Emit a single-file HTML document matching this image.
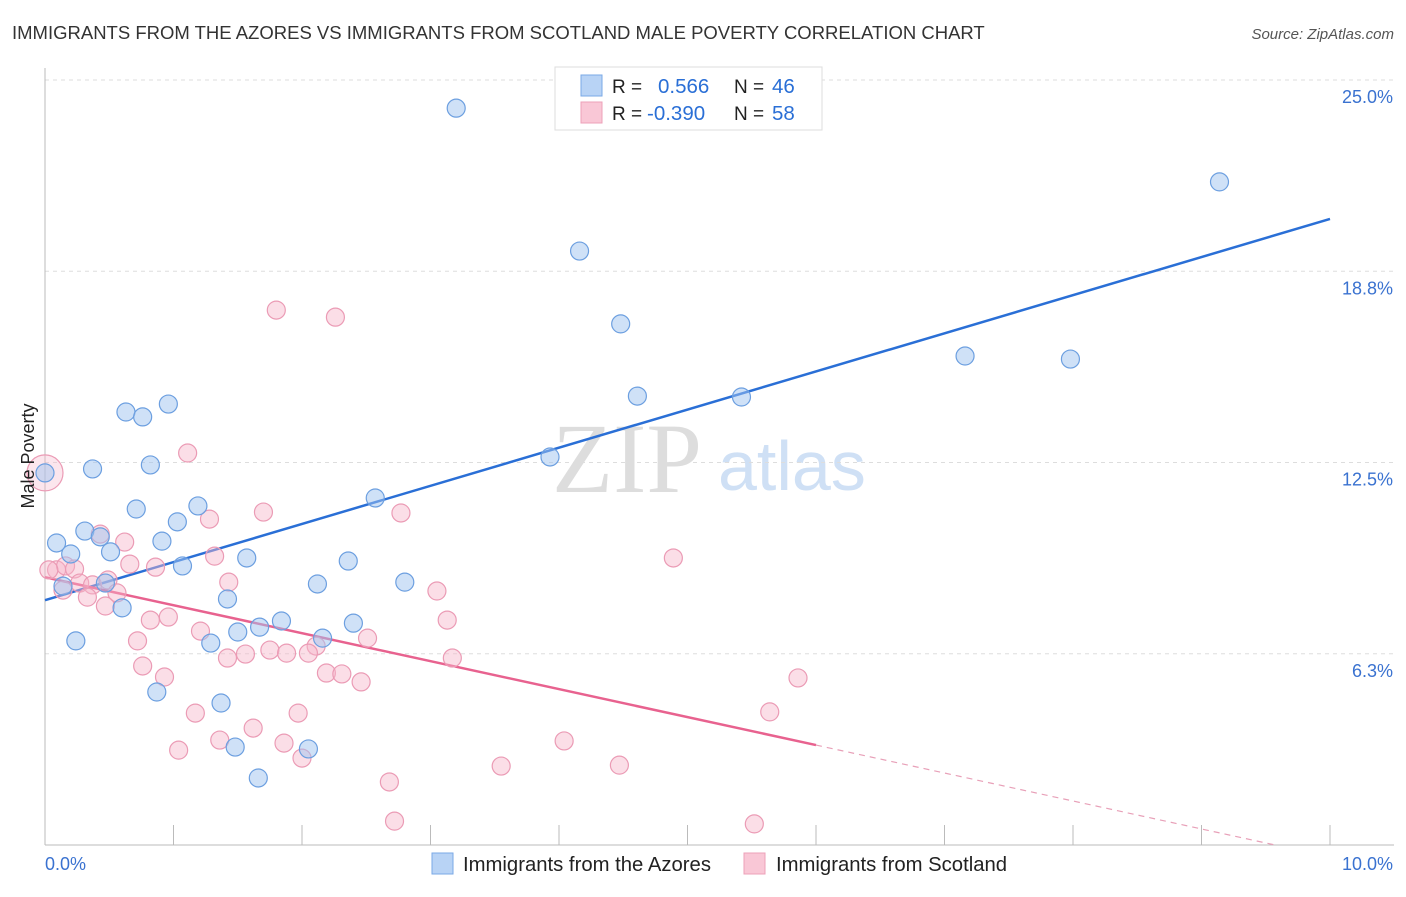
<!DOCTYPE html>
<html><head><meta charset="utf-8"><style>
body{margin:0;background:#fff;font-family:"Liberation Sans",sans-serif}
svg text{font-family:"Liberation Sans",sans-serif}
</style></head><body>
<svg id="chart" width="1406" height="892" xmlns="http://www.w3.org/2000/svg">
<text x="12" y="39" font-size="18.5" fill="#333">IMMIGRANTS FROM THE AZORES VS IMMIGRANTS FROM SCOTLAND MALE POVERTY CORRELATION CHART</text>
<text x="1394" y="39" font-size="15" fill="#555" font-style="italic" text-anchor="end">Source: ZipAtlas.com</text>
<g>
<text x="552" y="492" font-size="100" fill="#ddd" font-family="Liberation Serif" style="font-family:'Liberation Serif',serif">ZIP</text>
<text x="718" y="490" font-size="70" fill="#cfe0f5">atlas</text>
</g>
<g id="grid"></g>
<g id="axes"></g>
<g id="lines"></g>
<g id="pts"></g>
<text transform="translate(34,456) rotate(-90)" font-size="18" fill="#222" text-anchor="middle">Male Poverty</text>
<g>
<rect x="555" y="67" width="267" height="63" fill="#fff" stroke="#ddd"/>
<rect x="581" y="75" width="21" height="21" fill="#b8d3f5" stroke="#7aa8e6"/>
<rect x="581" y="102" width="21" height="21" fill="#f9c7d6" stroke="#eda0b8"/>
<text x="612" y="93" font-size="19" fill="#222">R = </text><text x="658" y="93" font-size="20.5" fill="#2a6fd6">0.566</text>
<text x="734" y="93" font-size="19" fill="#222">N = </text><text x="772" y="93" font-size="20.5" fill="#2a6fd6">46</text>
<text x="612" y="120" font-size="19" fill="#222">R = </text><text x="647" y="120" font-size="20.5" fill="#2a6fd6">-0.390</text>
<text x="734" y="120" font-size="19" fill="#222">N = </text><text x="772" y="120" font-size="20.5" fill="#2a6fd6">58</text>
</g>
<g>
<rect x="432" y="853" width="21" height="21" fill="#b8d3f5" stroke="#7aa8e6"/>
<text x="463" y="871" font-size="20.3" fill="#222">Immigrants from the Azores</text>
<rect x="744" y="853" width="21" height="21" fill="#f9c7d6" stroke="#eda0b8"/>
<text x="776" y="871" font-size="20.3" fill="#222">Immigrants from Scotland</text>
</g>
</svg>
<script>
const yTicks=[6.25,12.5,18.75,25];
const yTickLabels=["6.3%","12.5%","18.8%","25.0%"];
const xTickLabels=["0.0%","10.0%"];
const azoresX=[3.20,9.14,4.16,4.48,7.16,7.98,4.61,5.42,0.63,0.76,0.96,3.93,0.37,0.82,0.00,2.57,0.71,1.19,1.03,0.09,0.31,0.43,0.20,0.51,0.91,1.57,1.07,2.36,0.47,0.14,2.12,2.80,0.60,1.42,1.84,2.40,1.67,1.50,2.16,1.29,0.24,0.87,1.37,1.48,2.05,1.66];
const azoresY=[24.08,21.67,19.41,17.03,15.98,15.88,14.67,14.64,14.15,13.99,14.41,12.68,12.29,12.42,12.16,11.34,10.98,11.08,10.56,9.87,10.26,10.07,9.51,9.58,9.93,9.38,9.12,9.28,8.56,8.46,8.53,8.59,7.75,8.04,7.32,7.25,7.12,6.96,6.76,6.60,6.67,5.00,4.64,3.20,3.14,2.19];
const scotX=[1.80,2.26,1.11,1.28,1.70,2.77,4.89,1.32,0.62,0.43,0.09,0.16,0.23,0.14,0.27,0.37,0.49,0.33,0.56,0.66,0.86,1.43,3.05,0.47,0.82,0.96,0.72,1.21,2.51,3.13,1.75,2.11,1.56,1.42,1.88,2.05,3.17,0.76,2.19,2.31,2.46,0.93,5.86,1.17,1.97,5.64,1.62,1.36,1.86,4.04,1.04,2.00,3.55,4.47,2.68,2.72,5.52,0.03];
const scotY=[17.48,17.25,12.81,10.65,10.88,10.85,9.38,9.44,9.90,10.16,8.99,9.12,9.02,8.33,8.56,8.50,8.66,8.10,8.24,9.18,9.08,8.59,8.30,7.81,7.35,7.45,6.67,6.99,6.76,7.35,6.37,6.50,6.24,6.11,6.27,6.27,6.11,5.85,5.62,5.59,5.33,5.49,5.46,4.31,4.31,4.35,3.82,3.43,3.33,3.40,3.10,2.84,2.58,2.61,2.06,0.78,0.69,8.99];
const azoresTrend=[8.0,20.46];
const scotTrend=[8.75,-0.39];
const scotSolidEnd=6.0;
const X0=45,X1=1330,Y0=845,Y1=80;
const sx=v=>X0+(X1-X0)*v/10, sy=v=>Y0-(Y0-Y1)*v/25;
const NS="http://www.w3.org/2000/svg";
function mk(p,tag,a){const e=document.createElementNS(NS,tag);for(const k in a)e.setAttribute(k,a[k]);p.appendChild(e);return e;}
const grid=document.getElementById('grid'),axes=document.getElementById('axes'),lines=document.getElementById('lines'),pts=document.getElementById('pts');
yTicks.forEach((t,i)=>{
 const g=mk(grid,'line',{x1:X0,x2:1394,y1:sy(t),y2:sy(t),stroke:'#ddd','stroke-dasharray':'4,4'});
 
 
 const tx=mk(axes,'text',{x:1393,y:sy(t)+23,'font-size':18,fill:'#3a72d0','text-anchor':'end'});
 tx.textContent=yTickLabels[i];
 
 
});
const ya=mk(axes,'line',{x1:X0,x2:X0,y1:68,y2:Y0,stroke:'#bbb'});


const xa=mk(axes,'line',{x1:X0,x2:1394,y1:Y0,y2:Y0,stroke:'#bbb'});


for(let i=1;i<=10;i++){
 const t=mk(axes,'line',{x1:sx(i),x2:sx(i),y1:Y0,y2:Y0-20,stroke:'#bbb'});
 
 
}
[[0,'start',X0],[1,'end',1393]].forEach(([i,a,x])=>{
 const t=mk(axes,'text',{x:x,y:870,'font-size':18,fill:'#3a72d0','text-anchor':a});
 t.textContent=xTickLabels[i];
 
 
});
function dot(x,y,r,f,s,name){
 const c=mk(pts,'circle',{cx:sx(x),cy:sy(y),r:r,fill:f,stroke:s,'stroke-width':1.2});
 
 
}
scotX.forEach((x,i)=>dot(x,scotY[i],9,'rgba(246,182,202,0.45)','#eb9bb5','scotland-point'));
dot(0,12.16,18,'rgba(246,182,202,0.35)','#eb9bb5','scotland-point-large');
azoresX.forEach((x,i)=>dot(x,azoresY[i],9,'rgba(160,196,240,0.5)','#6c9fe0','azores-point'));
const bl=mk(lines,'line',{x1:sx(0),y1:sy(azoresTrend[0]),x2:sx(10),y2:sy(azoresTrend[1]),stroke:'#2a6fd6','stroke-width':2.5});


const pv=x=>scotTrend[0]+(scotTrend[1]-scotTrend[0])*x/10;
const pl=mk(lines,'line',{x1:sx(0),y1:sy(pv(0)),x2:sx(scotSolidEnd),y2:sy(pv(scotSolidEnd)),stroke:'#e8628f','stroke-width':2.5});


const xz=10*scotTrend[0]/(scotTrend[0]-scotTrend[1]);
const pd=mk(lines,'line',{x1:sx(scotSolidEnd),y1:sy(pv(scotSolidEnd)),x2:sx(Math.min(10,xz)),y2:sy(pv(Math.min(10,xz))),stroke:'#e8a0b8','stroke-width':1.2,'stroke-dasharray':'6,5'});


</script>
</body></html>
